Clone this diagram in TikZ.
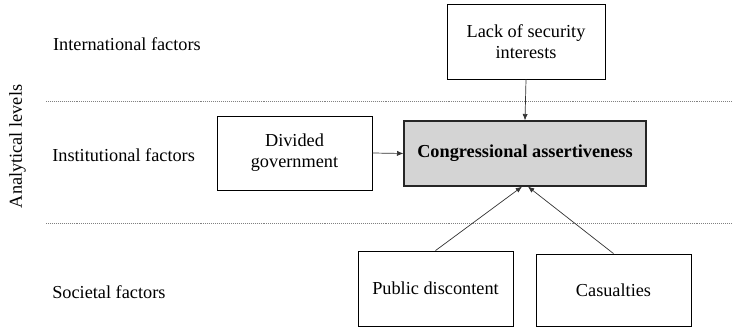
\documentclass[tikz,border=0pt]{standalone}
\usepackage{fontspec}
\setmainfont{Liberation Serif}
\usetikzlibrary{arrows.meta}

\begin{document}
\begin{tikzpicture}[
  box/.style={draw, line width=0.6pt, align=center, inner sep=2pt,
    font=\fontsize{13}{15}\selectfont},
  level/.style={anchor=west, inner sep=0pt, font=\fontsize{13}{15}\selectfont},
  arr/.style={-{Latex[length=1.6mm,width=1.3mm]}, line width=0.5pt, draw=black!80},
  divider/.style={draw=gray, line width=0.6pt, dash pattern=on 0.7pt off 0.7pt}
]
\useasboundingbox (0,0) rectangle (18.3,-8.175);
% dividers between levels
\coordinate (d1a) at (1.15,-2.525);
\coordinate (d1b) at (18.3,-2.525);
\coordinate (d2a) at (1.15,-5.575);
\coordinate (d2b) at (18.3,-5.575);
\draw[divider] (d1a) -- (d1b);
\draw[divider] (d2a) -- (d2b);
% labels of levels
\node[rotate=90, font=\fontsize{13}{15}\selectfont] (axis) at (0.44,-3.66) {Analytical levels};
\node[level] (intl) at (1.32,-1.1) {International factors};
\node[level] (inst) at (1.3,-3.875) {Institutional factors};
\node[level] (soc) at (1.3,-7.3) {Societal factors};
% factor boxes
\node[box, minimum width=3.95cm, minimum height=1.875cm] (lack) at (13.15,-1.0375) {Lack of security\\interests};
\node[box, minimum width=3.875cm, minimum height=1.85cm] (divided) at (7.3625,-3.825) {Divided\\government};
\node[box, line width=0.85pt, draw=black!85, fill=black!17, minimum width=6.05cm, minimum height=1.625cm,
  font=\fontsize{13}{15}\selectfont\bfseries] (congress) at (13.125,-3.8375) {Congressional assertiveness};
\node[box, minimum width=3.875cm, minimum height=1.875cm] (public) at (10.8875,-7.2125) {Public discontent};
\node[box, minimum width=3.875cm, minimum height=1.8cm] (casualties) at (15.3375,-7.25) {Casualties};
% arrows
\draw[arr] (lack.south) -- (congress.north);
\draw[arr] (divided.east) -- (congress.west);
\draw[arr] (public.north) -- (congress.265);
\draw[arr] (casualties.north) -- (congress.275);
\end{tikzpicture}
\end{document}
